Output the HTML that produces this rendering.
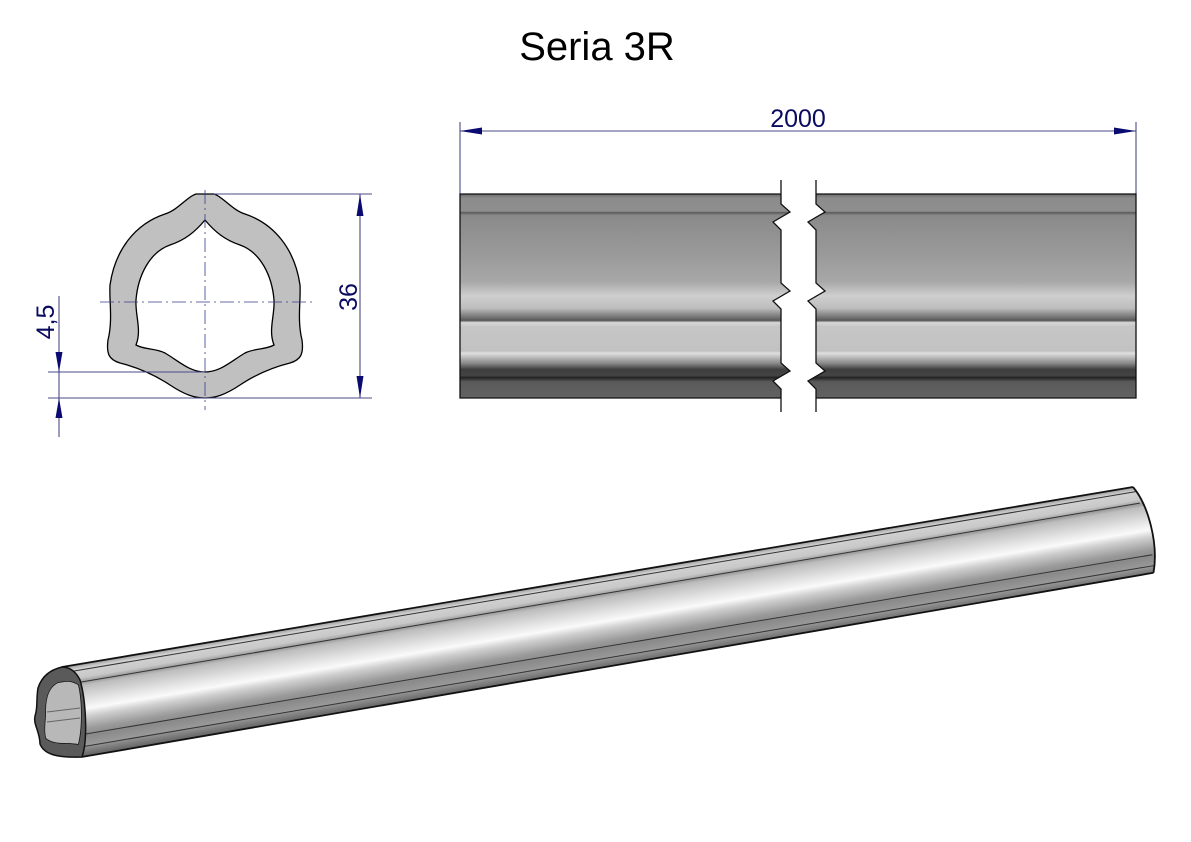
<!DOCTYPE html>
<html><head><meta charset="utf-8"><style>
html,body{margin:0;padding:0;background:#fff;}
svg{display:block;}
text{font-family:"Liberation Sans",sans-serif;}
</style></head><body>
<svg width="1191" height="842" viewBox="0 0 1191 842" xmlns="http://www.w3.org/2000/svg">
<defs>
<linearGradient id="side" x1="0" y1="194" x2="0" y2="398" gradientUnits="userSpaceOnUse">
<stop offset="0" stop-color="#6a6a6a"/>
<stop offset="0.02" stop-color="#8c8c8c"/>
<stop offset="0.085" stop-color="#8e8e8e"/>
<stop offset="0.09" stop-color="#5a5a5a"/>
<stop offset="0.105" stop-color="#8a8a8a"/>
<stop offset="0.3" stop-color="#9a9a9a"/>
<stop offset="0.43" stop-color="#a8a8a8"/>
<stop offset="0.5" stop-color="#cfcfcf"/>
<stop offset="0.56" stop-color="#bdbdbd"/>
<stop offset="0.61" stop-color="#6a6a6a"/>
<stop offset="0.62" stop-color="#555"/>
<stop offset="0.63" stop-color="#d8d8d8"/>
<stop offset="0.65" stop-color="#c6c6c6"/>
<stop offset="0.77" stop-color="#c2c2c2"/>
<stop offset="0.78" stop-color="#e0e0e0"/>
<stop offset="0.83" stop-color="#888"/>
<stop offset="0.86" stop-color="#3e3e3e"/>
<stop offset="0.89" stop-color="#444"/>
<stop offset="0.9" stop-color="#222"/>
<stop offset="0.92" stop-color="#5a5a5a"/>
<stop offset="1" stop-color="#626262"/>
</linearGradient>
<linearGradient id="tube" x1="0" y1="0" x2="0" y2="90" gradientUnits="userSpaceOnUse">
<stop offset="0" stop-color="#9a9a9a"/>
<stop offset="0.05" stop-color="#d2d2d2"/>
<stop offset="0.15" stop-color="#c8c8c8"/>
<stop offset="0.2" stop-color="#9a9a9a"/>
<stop offset="0.24" stop-color="#bdbdbd"/>
<stop offset="0.42" stop-color="#e8e8e8"/>
<stop offset="0.5" stop-color="#fafafa"/>
<stop offset="0.58" stop-color="#cfcfcf"/>
<stop offset="0.72" stop-color="#9a9a9a"/>
<stop offset="0.8" stop-color="#8a8a8a"/>
<stop offset="0.9" stop-color="#999"/>
<stop offset="1" stop-color="#6a6a6a"/>
</linearGradient>
<clipPath id="cl"><path d="M460,194 L781,194 L781,204 L790,212 L773,222 L781,230 L781,283 L790,291 L773,301 L781,309 L781,363 L790,371 L773,381 L781,389 L781,398 L460,398 Z"/></clipPath>
<clipPath id="cr"><path d="M1136,194 L816,194 L816,204 L825,212 L808,222 L816,230 L816,283 L825,291 L808,301 L816,309 L816,363 L825,371 L808,381 L816,389 L816,398 L1136,398 Z"/></clipPath>
</defs>

<text x="597" y="60" font-size="40" text-anchor="middle" fill="#000">Seria 3R</text>

<g stroke="#4a4a8a" stroke-width="1.1" fill="none">
<line x1="460" y1="122" x2="460" y2="194"/>
<line x1="1136" y1="122" x2="1136" y2="194"/>
<line x1="460" y1="131" x2="1136" y2="131"/>
</g>
<polygon points="460,131 482,127.5 482,134.5" fill="#0a0a70"/>
<polygon points="1136,131 1114,127.5 1114,134.5" fill="#0a0a70"/>
<text x="798" y="127" font-size="25" text-anchor="middle" fill="#0a0a60">2000</text>

<rect x="460" y="194" width="676" height="204" fill="url(#side)" clip-path="url(#cl)"/>
<rect x="460" y="194" width="676" height="204" fill="url(#side)" clip-path="url(#cr)"/>
<g fill="none" stroke="#111" stroke-width="1.3">
<path d="M781,194 L460,194 L460,398 L781,398"/>
<path d="M816,194 L1136,194 L1136,398 L816,398"/>
<path d="M781,180 L781,204 L790,212 L773,222 L781,230 L781,283 L790,291 L773,301 L781,309 L781,363 L790,371 L773,381 L781,389 L781,412"/>
<path d="M816,180 L816,204 L825,212 L808,222 L816,230 L816,283 L825,291 L808,301 L816,309 L816,363 L825,371 L808,381 L816,389 L816,412"/>
</g>

<path fill="#c0c0c0" fill-rule="evenodd" stroke="#000" stroke-width="1.3" d="M196,194 L214,194 C222,196 232,210 245,214 C275,224 295,250 300,285 C301,300 297,320 302,340 C304,355 300,360 290,363 C270,368 255,375 240,385 C225,395 215,398 205,398 C195,398 185,395 170,385 C155,375 140,368 120,363 C110,360 106,355 108,340 C113,320 109,300 110,285 C115,250 135,224 165,214 C178,210 188,196 196,194 Z M205,220 C195,232 185,240 170,245 C150,252 138,275 136,300 C135,315 142,330 136,345 C145,350 155,348 165,353 C180,362 190,372 205,372 C220,372 230,362 245,353 C255,348 265,350 274,345 C268,330 275,315 274,300 C272,275 260,252 240,245 C225,240 215,232 205,220 Z"/>
<g stroke="#3a3a8a" stroke-width="0.8" fill="none">
<line x1="205" y1="190" x2="205" y2="410" stroke-dasharray="14,4,2,4"/>
<line x1="100" y1="302" x2="312" y2="302" stroke-dasharray="14,4,2,4"/>
</g>
<g stroke="#4a4a8a" stroke-width="1.1" fill="none">
<line x1="214" y1="194" x2="372" y2="194"/>
<line x1="48" y1="398" x2="372" y2="398"/>
<line x1="48" y1="372" x2="205" y2="372"/>
<line x1="360" y1="194" x2="360" y2="398"/>
<line x1="59" y1="296" x2="59" y2="437"/>
</g>
<polygon points="360,194 356.5,216 363.5,216" fill="#0a0a70"/>
<polygon points="360,398 356.5,376 363.5,376" fill="#0a0a70"/>
<polygon points="59,372 55.5,352 62.5,352" fill="#0a0a70"/>
<polygon points="59,398 55.5,418 62.5,418" fill="#0a0a70"/>
<text transform="translate(357,297) rotate(-90)" font-size="25" text-anchor="middle" fill="#0a0a60">36</text>
<text transform="translate(54,322) rotate(-90)" font-size="25" text-anchor="middle" fill="#0a0a60">4,5</text>

<g transform="translate(62,667) rotate(-9.54)">
<path d="M0,0 L1086,0 C1098,20 1102,60 1092,88 L5,92 Z" fill="url(#tube)"/>
<g fill="none" stroke="#333" stroke-width="1">
<line x1="0" y1="6" x2="1088" y2="5"/>
<line x1="0" y1="18" x2="1090" y2="17"/>
<line x1="4" y1="70" x2="1094" y2="70"/>
<line x1="4" y1="82" x2="1094" y2="81"/>
</g>
<g fill="none" stroke="#111" stroke-width="1.8">
<line x1="0" y1="0" x2="1086" y2="0"/>
<line x1="5" y1="92" x2="1092" y2="88"/>
<path d="M1086,0 C1098,20 1102,60 1092,88"/>
</g>
</g>
<path fill="#5a5a5a" stroke="#111" stroke-width="1.5" fill-rule="evenodd" d="M62,667 C50,670 42,676 38,688 C36,700 38,708 35,716 C33,724 40,732 40,744 C44,754 56,758 82,757 C88,740 86,700 80,680 C76,672 70,667 62,667 Z M58,683 C48,688 46,700 46,712 C46,722 44,728 46,738 C54,745 66,742 78,744 C82,730 82,700 78,685 C70,680 64,682 58,683 Z"/>
<path fill="#b8b8b8" d="M58,683 C48,688 46,700 46,712 C46,722 44,728 46,738 C54,745 66,742 78,744 C82,730 82,700 78,685 C70,680 64,682 58,683 Z"/>
<g stroke="#666" stroke-width="1"><line x1="47" y1="712" x2="80" y2="708"/><line x1="47" y1="722" x2="80" y2="718"/></g>
</svg>
</body></html>
